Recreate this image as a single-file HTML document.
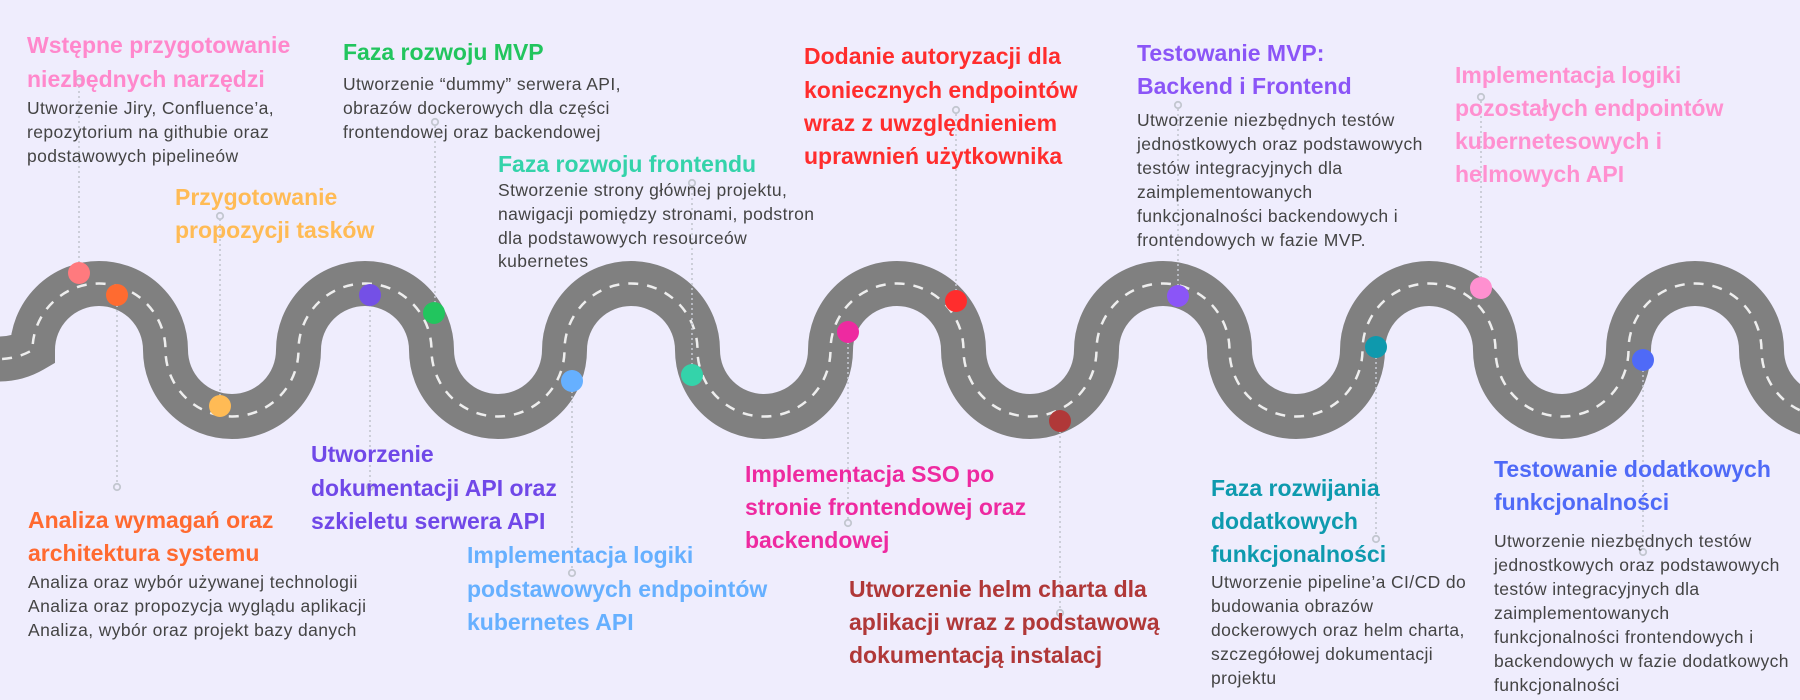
<!DOCTYPE html>
<html><head><meta charset="utf-8"><style>
html,body{margin:0;padding:0;background:#efedfd;}
svg{display:block}
.h{font-family:"Liberation Sans",sans-serif;font-weight:bold;font-size:23px}
.b{font-family:"Liberation Sans",sans-serif;font-size:17.5px;letter-spacing:0.4px;fill:#444}
.c{stroke:#c3c7d0;stroke-width:1.6;stroke-dasharray:2 3;fill:none}
.o{stroke:#c3c7d0;stroke-width:1.8;fill:#efedfd}
</style></head><body>
<svg width="1800" height="700" viewBox="0 0 1800 700" xmlns="http://www.w3.org/2000/svg">
<rect width="1800" height="700" fill="#efedfd"/>
<g id="road" fill="none">
<path d="M -167.5 350 A 66.5 66.5 0 0 0 -34.5 350 A 66.5 66.5 0 0 0 32.5 350 A 66.5 66.5 0 0 1 165.5 350 A 66.5 66.5 0 0 0 298.5 350 A 66.5 66.5 0 0 1 431.5 350 A 66.5 66.5 0 0 0 564.5 350 A 66.5 66.5 0 0 1 697.5 350 A 66.5 66.5 0 0 0 830.5 350 A 66.5 66.5 0 0 1 963.5 350 A 66.5 66.5 0 0 0 1096.5 350 A 66.5 66.5 0 0 1 1229.5 350 A 66.5 66.5 0 0 0 1362.5 350 A 66.5 66.5 0 0 1 1495.5 350 A 66.5 66.5 0 0 0 1628.5 350 A 66.5 66.5 0 0 1 1761.5 350 A 66.5 66.5 0 0 0 1894.5 350" stroke="#808080" stroke-width="45"/>
<path d="M -167.5 350 A 66.5 66.5 0 0 0 -34.5 350 A 66.5 66.5 0 0 0 32.5 350 A 66.5 66.5 0 0 1 165.5 350 A 66.5 66.5 0 0 0 298.5 350 A 66.5 66.5 0 0 1 431.5 350 A 66.5 66.5 0 0 0 564.5 350 A 66.5 66.5 0 0 1 697.5 350 A 66.5 66.5 0 0 0 830.5 350 A 66.5 66.5 0 0 1 963.5 350 A 66.5 66.5 0 0 0 1096.5 350 A 66.5 66.5 0 0 1 1229.5 350 A 66.5 66.5 0 0 0 1362.5 350 A 66.5 66.5 0 0 1 1495.5 350 A 66.5 66.5 0 0 0 1628.5 350 A 66.5 66.5 0 0 1 1761.5 350 A 66.5 66.5 0 0 0 1894.5 350" stroke="#eeeeee" stroke-width="2.5" stroke-dasharray="10 9"/>
</g>
<line class="c" x1="79" y1="273" x2="79" y2="85"/><circle class="o" cx="79" cy="82" r="3.2"/>
<line class="c" x1="117" y1="295" x2="117" y2="484"/><circle class="o" cx="117" cy="487" r="3.2"/>
<line class="c" x1="220" y1="406" x2="220" y2="219"/><circle class="o" cx="220" cy="216" r="3.2"/>
<line class="c" x1="370" y1="295" x2="370" y2="484"/><circle class="o" cx="370" cy="487" r="3.2"/>
<line class="c" x1="435" y1="313" x2="435" y2="125"/><circle class="o" cx="435" cy="122" r="3.2"/>
<line class="c" x1="572" y1="381" x2="572" y2="570"/><circle class="o" cx="572" cy="573" r="3.2"/>
<line class="c" x1="692" y1="375" x2="692" y2="186"/><circle class="o" cx="692" cy="183" r="3.2"/>
<line class="c" x1="848" y1="332" x2="848" y2="520"/><circle class="o" cx="848" cy="523" r="3.2"/>
<line class="c" x1="956" y1="301" x2="956" y2="113"/><circle class="o" cx="956" cy="110" r="3.2"/>
<line class="c" x1="1060" y1="421" x2="1060" y2="610"/><circle class="o" cx="1060" cy="613" r="3.2"/>
<line class="c" x1="1178" y1="296" x2="1178" y2="108"/><circle class="o" cx="1178" cy="105" r="3.2"/>
<line class="c" x1="1376" y1="347" x2="1376" y2="536"/><circle class="o" cx="1376" cy="539" r="3.2"/>
<line class="c" x1="1481" y1="288" x2="1481" y2="100"/><circle class="o" cx="1481" cy="97" r="3.2"/>
<line class="c" x1="1643" y1="360" x2="1643" y2="549"/><circle class="o" cx="1643" cy="552" r="3.2"/>
<circle cx="79" cy="273" r="11" fill="#ff7a7e"/>
<circle cx="117" cy="295" r="11" fill="#ff6b30"/>
<circle cx="220" cy="406" r="11" fill="#ffbb55"/>
<circle cx="370" cy="295" r="11" fill="#7450e6"/>
<circle cx="434" cy="313" r="11" fill="#22c55e"/>
<circle cx="572" cy="381" r="11" fill="#66b0ff"/>
<circle cx="692" cy="375" r="11" fill="#34d3aa"/>
<circle cx="848" cy="332" r="11" fill="#ee2aa0"/>
<circle cx="956" cy="301" r="11" fill="#ff2d2d"/>
<circle cx="1060" cy="421" r="11" fill="#b03838"/>
<circle cx="1178" cy="296" r="11" fill="#8b55f7"/>
<circle cx="1376" cy="347" r="11" fill="#0e99ad"/>
<circle cx="1481" cy="288" r="11" fill="#ff90d0"/>
<circle cx="1643" cy="360" r="11" fill="#4f6af7"/>
<g class="h" fill="#ff88cc"><text x="27" y="53">Wstępne przygotowanie</text><text x="27" y="87">niezbędnych narzędzi</text></g>
<g class="b"><text x="27" y="114">Utworzenie Jiry, Confluence’a,</text><text x="27" y="138">repozytorium na githubie oraz</text><text x="27" y="162">podstawowych pipelineów</text></g>
<g class="h" fill="#ffbb55"><text x="175" y="205">Przygotowanie</text><text x="175" y="238">propozycji tasków</text></g>
<g class="h" fill="#22c55e"><text x="343" y="60">Faza rozwoju MVP</text></g>
<g class="b"><text x="343" y="90">Utworzenie “dummy” serwera API,</text><text x="343" y="114">obrazów dockerowych dla części</text><text x="343" y="138">frontendowej oraz backendowej</text></g>
<g class="h" fill="#34d3aa"><text x="498" y="172">Faza rozwoju frontendu</text></g>
<g class="b"><text x="498" y="196">Stworzenie strony głównej projektu,</text><text x="498" y="220">nawigacji pomiędzy stronami, podstron</text><text x="498" y="244">dla podstawowych resourceów</text><text x="498" y="267">kubernetes</text></g>
<g class="h" fill="#ff2d2d"><text x="804" y="64">Dodanie autoryzacji dla</text><text x="804" y="98">koniecznych endpointów</text><text x="804" y="131">wraz z uwzględnieniem</text><text x="804" y="164">uprawnień użytkownika</text></g>
<g class="h" fill="#8b55f7"><text x="1137" y="61">Testowanie MVP:</text><text x="1137" y="94">Backend i Frontend</text></g>
<g class="b"><text x="1137" y="126">Utworzenie niezbędnych testów</text><text x="1137" y="150">jednostkowych oraz podstawowych</text><text x="1137" y="174">testów integracyjnych dla</text><text x="1137" y="198">zaimplementowanych</text><text x="1137" y="222">funkcjonalności backendowych i</text><text x="1137" y="246">frontendowych w fazie MVP.</text></g>
<g class="h" fill="#ff90d0"><text x="1455" y="83">Implementacja logiki</text><text x="1455" y="116">pozostałych endpointów</text><text x="1455" y="149">kubernetesowych i</text><text x="1455" y="182">helmowych API</text></g>
<g class="h" fill="#ff6a30"><text x="28" y="528">Analiza wymagań oraz</text><text x="28" y="561">architektura systemu</text></g>
<g class="b"><text x="28" y="588">Analiza oraz wybór używanej technologii</text><text x="28" y="612">Analiza oraz propozycja wyglądu aplikacji</text><text x="28" y="636">Analiza, wybór oraz projekt bazy danych</text></g>
<g class="h" fill="#7048e8"><text x="311" y="462">Utworzenie</text><text x="311" y="496">dokumentacji API oraz</text><text x="311" y="529">szkieletu serwera API</text></g>
<g class="h" fill="#66b0ff"><text x="467" y="563">Implementacja logiki</text><text x="467" y="597">podstawowych endpointów</text><text x="467" y="630">kubernetes API</text></g>
<g class="h" fill="#ee2aa0"><text x="745" y="482">Implementacja SSO po</text><text x="745" y="515">stronie frontendowej oraz</text><text x="745" y="548">backendowej</text></g>
<g class="h" fill="#b03838"><text x="849" y="597">Utworzenie helm charta dla</text><text x="849" y="630">aplikacji wraz z podstawową</text><text x="849" y="663">dokumentacją instalacj</text></g>
<g class="h" fill="#0e9aae"><text x="1211" y="496">Faza rozwijania</text><text x="1211" y="529">dodatkowych</text><text x="1211" y="562">funkcjonalności</text></g>
<g class="b"><text x="1211" y="588">Utworzenie pipeline’a CI/CD do</text><text x="1211" y="612">budowania obrazów</text><text x="1211" y="636">dockerowych oraz helm charta,</text><text x="1211" y="660">szczegółowej dokumentacji</text><text x="1211" y="684">projektu</text></g>
<g class="h" fill="#4f6af7"><text x="1494" y="477">Testowanie dodatkowych</text><text x="1494" y="510">funkcjonalności</text></g>
<g class="b"><text x="1494" y="547">Utworzenie niezbędnych testów</text><text x="1494" y="571">jednostkowych oraz podstawowych</text><text x="1494" y="595">testów integracyjnych dla</text><text x="1494" y="619">zaimplementowanych</text><text x="1494" y="643">funkcjonalności frontendowych i</text><text x="1494" y="667">backendowych w fazie dodatkowych</text><text x="1494" y="691">funkcjonalności</text></g>
</svg>
</body></html>
